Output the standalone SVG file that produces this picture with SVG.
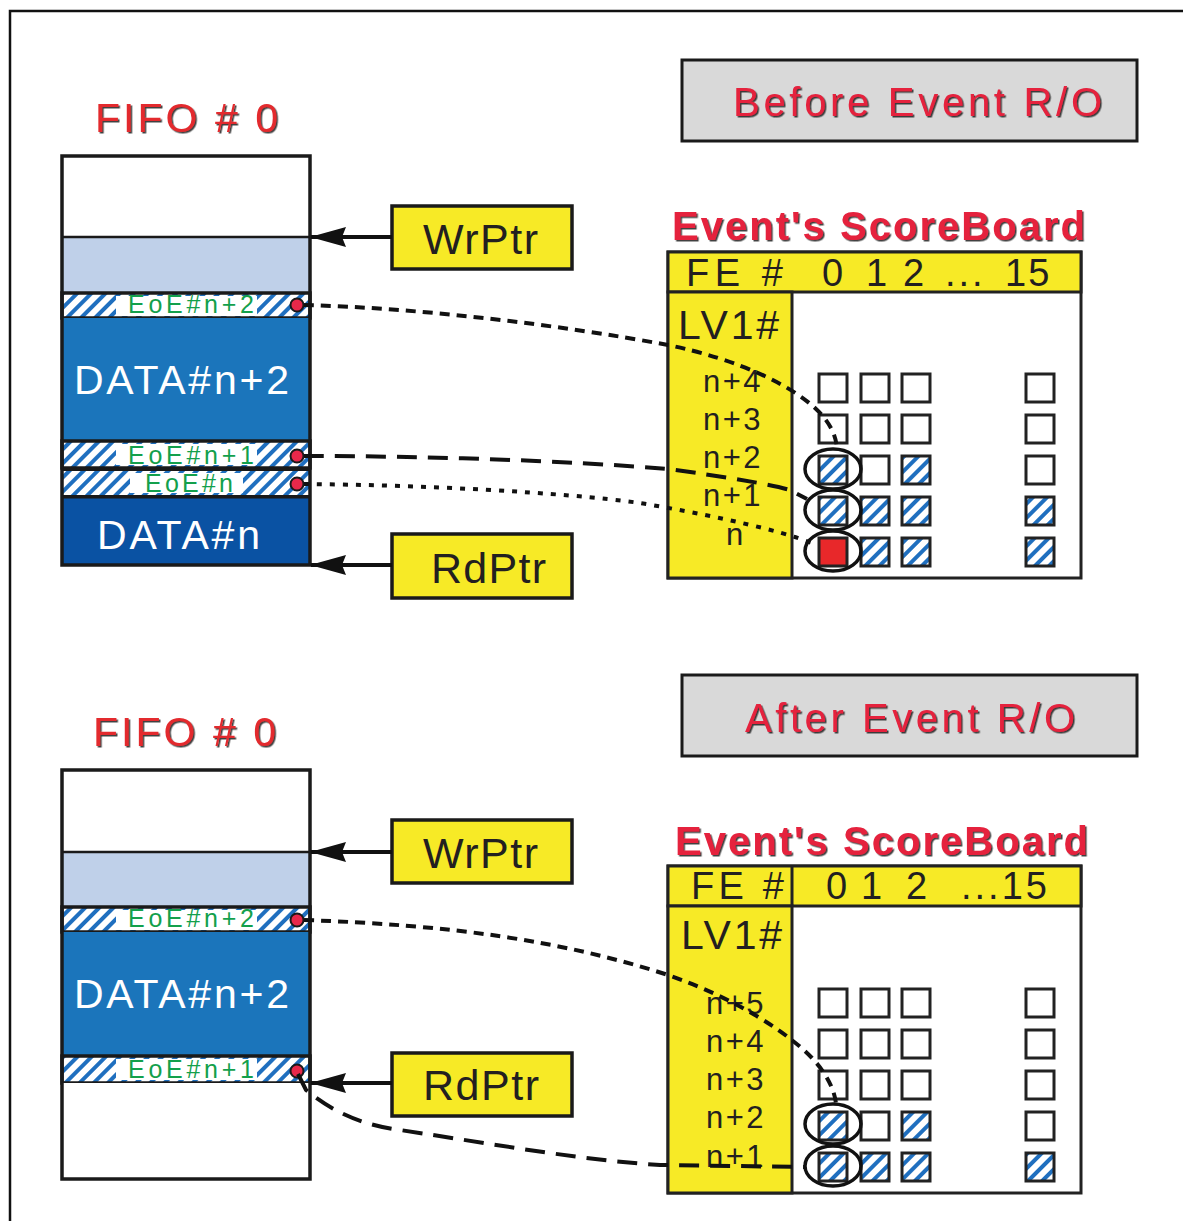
<svg xmlns="http://www.w3.org/2000/svg" width="1183" height="1221" viewBox="0 0 1183 1221">
<defs>
<style>
text{font-family:"Liberation Sans",Arial,Helvetica,sans-serif}
.fifo-title{fill:#e32a2d;font-size:41px;filter:url(#sh)}
.title{fill:#e5203d;font-size:40px;filter:url(#sh)}
.sb-title{fill:#e5203d;font-size:40px;font-weight:bold;filter:url(#sh)}
.box{stroke:#1a1a1a;stroke-width:3.5}
.tbox{fill:#d9d9d9;stroke:#1a1a1a;stroke-width:3}
.yel{fill:#f7ea26}
.ptr{font-size:43px;fill:#231f20}
.data{font-size:41px;fill:#fff}
.eoe{font-size:25px;fill:#13a04c}
.dot{fill:#e8284a;stroke:#1a1a1a;stroke-width:2}
.sq{fill:#fff;stroke:#222;stroke-width:3}
.sqh{fill:url(#hatch);stroke:#222;stroke-width:3}
.sqr{fill:#e8282a;stroke:#222;stroke-width:3}
.ell{fill:none;stroke:#111;stroke-width:3.5}
.sbl{stroke:#222;stroke-width:3}
.hdr{font-size:38px;fill:#231f20}
.lv{font-size:41px;fill:#231f20}
.row{font-size:31px;fill:#231f20;letter-spacing:2.5px}
.conn{fill:none;stroke:#111;stroke-width:4}
.d1{stroke-dasharray:10 7}
.d2{stroke-dasharray:20 11}
.d3{stroke-dasharray:5 8}
.arrow{fill:none;stroke:#111;stroke-width:4}
</style>
<pattern id="hatch" patternUnits="userSpaceOnUse" width="10" height="10" patternTransform="rotate(45)">
<rect width="10" height="10" fill="#fff"/>
<rect width="4" height="10" fill="#1f6fbf"/>
</pattern>
<filter id="sh" x="-5%" y="-10%" width="110%" height="130%">
<feDropShadow dx="1.5" dy="1.5" stdDeviation="0.3" flood-color="#222" flood-opacity="0.85"/>
</filter>
<marker id="arr" markerUnits="userSpaceOnUse" markerWidth="36" markerHeight="22" refX="35" refY="11" orient="auto">
<path d="M0,1 L36,11 L0,21 L4,11 z" fill="#111"/>
</marker>
</defs>

<rect width="1183" height="1221" fill="#fff"/>
<path d="M10,1221 V11 H1183" fill="none" stroke="#111" stroke-width="2.5"/>

<!-- ===== TOP ===== -->
<g id="fifo-top">
<text class="fifo-title" x="95" y="132" textLength="183">FIFO # 0</text>
<rect x="62" y="156" width="248" height="81" fill="#fff"/>
<rect x="62" y="237" width="248" height="56" fill="#bfd0e9"/>
<line x1="62" y1="237" x2="310" y2="237" stroke="#1a1a1a" stroke-width="2.5"/>
<g id="eoe-n2-top">
<rect x="62" y="293" width="248" height="25" fill="url(#hatch)" class="box"/>
<rect x="116" y="296" width="141" height="20" fill="#fff"/>
<text class="eoe" x="128" y="313" textLength="126">EoE#n+2</text>
<circle class="dot" cx="297" cy="305" r="6.5"/>
</g>
<rect x="62" y="318" width="248" height="123" fill="#1b75bb"/>
<text class="data" x="74" y="394" textLength="215">DATA#n+2</text>
<g id="eoe-n1-top">
<rect x="62" y="441" width="248" height="27" fill="url(#hatch)" class="box"/>
<rect x="116" y="444" width="141" height="21" fill="#fff"/>
<text class="eoe" x="128" y="464" textLength="126">EoE#n+1</text>
<circle class="dot" cx="297" cy="456" r="6.5"/>
</g>
<g id="eoe-n-top">
<rect x="62" y="470" width="248" height="26" fill="url(#hatch)" stroke="#1a1a1a" stroke-width="2"/>
<rect x="130" y="473" width="113" height="20" fill="#fff"/>
<text class="eoe" x="145" y="492" textLength="88">EoE#n</text>
<circle class="dot" cx="297" cy="484" r="6.5"/>
</g>
<rect x="62" y="497" width="248" height="68" fill="#0a52a3"/>
<line x1="62" y1="497" x2="310" y2="497" stroke="#1a1a1a" stroke-width="3"/>
<text class="data" x="97" y="549" textLength="163">DATA#n</text>
<rect x="62" y="156" width="248" height="409" fill="none" class="box"/>
</g>

<g id="wrptr-top">
<rect x="392" y="206" width="180" height="63" class="yel box"/>
<text class="ptr" x="423" y="254" textLength="115">WrPtr</text>
</g>
<g id="rdptr-top">
<rect x="392" y="534" width="180" height="64" class="yel box"/>
<text class="ptr" x="431" y="583" textLength="115">RdPtr</text>
</g>

<g id="before-box">
<rect x="682" y="60" width="455" height="81" class="tbox"/>
<text class="title" x="733" y="116" textLength="369">Before Event R/O</text>
</g>

<g id="scoreboard-top">
<text class="sb-title" x="672" y="240" textLength="413">Event's ScoreBoard</text>
<rect x="668" y="252" width="413" height="326" fill="#fff" class="sbl"/>
<rect x="668" y="252" width="413" height="40" class="yel sbl"/>
<rect x="668" y="292" width="124" height="286" class="yel sbl"/>
<text class="hdr" x="686" y="286" textLength="97">FE #</text>
<text class="hdr" y="286"><tspan x="822">0</tspan><tspan x="866">1</tspan><tspan x="903">2</tspan><tspan x="945" letter-spacing="3">...</tspan><tspan x="1005" letter-spacing="2">15</tspan></text>
<text class="lv" x="678" y="339" textLength="101">LV1#</text>
<text class="row" x="703" y="392">n+4</text>
<text class="row" x="703" y="430">n+3</text>
<text class="row" x="703" y="468">n+2</text>
<text class="row" x="703" y="506">n+1</text>
<text class="row" x="726" y="545">n</text>
<rect class="sq" x="819" y="374" width="28" height="28"/>
<rect class="sq" x="861" y="374" width="28" height="28"/>
<rect class="sq" x="902" y="374" width="28" height="28"/>
<rect class="sq" x="1026" y="374" width="28" height="28"/>
<rect class="sq" x="819" y="415" width="28" height="28"/>
<rect class="sq" x="861" y="415" width="28" height="28"/>
<rect class="sq" x="902" y="415" width="28" height="28"/>
<rect class="sq" x="1026" y="415" width="28" height="28"/>
<rect class="sqh" x="819" y="456" width="28" height="28"/>
<rect class="sq" x="861" y="456" width="28" height="28"/>
<rect class="sqh" x="902" y="456" width="28" height="28"/>
<rect class="sq" x="1026" y="456" width="28" height="28"/>
<rect class="sqh" x="819" y="497" width="28" height="28"/>
<rect class="sqh" x="861" y="497" width="28" height="28"/>
<rect class="sqh" x="902" y="497" width="28" height="28"/>
<rect class="sqh" x="1026" y="497" width="28" height="28"/>
<rect class="sqr" x="819" y="538" width="28" height="28"/>
<rect class="sqh" x="861" y="538" width="28" height="28"/>
<rect class="sqh" x="902" y="538" width="28" height="28"/>
<rect class="sqh" x="1026" y="538" width="28" height="28"/>
<ellipse class="ell" cx="833" cy="469" rx="28" ry="20"/>
<ellipse class="ell" cx="833" cy="510" rx="28" ry="20"/>
<ellipse class="ell" cx="833" cy="551" rx="28" ry="20"/>
</g>

<!-- ===== BOTTOM ===== -->
<g id="fifo-bottom">
<text class="fifo-title" x="93" y="746" textLength="183">FIFO # 0</text>
<rect x="62" y="770" width="248" height="82" fill="#fff"/>
<rect x="62" y="852" width="248" height="55" fill="#bfd0e9"/>
<line x1="62" y1="852" x2="310" y2="852" stroke="#1a1a1a" stroke-width="2.5"/>
<g id="eoe-n2-bottom">
<rect x="62" y="907" width="248" height="25" fill="url(#hatch)" class="box"/>
<rect x="116" y="910" width="141" height="20" fill="#fff"/>
<text class="eoe" x="128" y="927" textLength="126">EoE#n+2</text>
<circle class="dot" cx="297" cy="920" r="6.5"/>
</g>
<rect x="62" y="932" width="248" height="124" fill="#1b75bb"/>
<text class="data" x="74" y="1008" textLength="215">DATA#n+2</text>
<g id="eoe-n1-bottom">
<rect x="62" y="1056" width="248" height="27" fill="url(#hatch)" class="box"/>
<rect x="116" y="1059" width="141" height="21" fill="#fff"/>
<text class="eoe" x="128" y="1078" textLength="126">EoE#n+1</text>
<circle class="dot" cx="297" cy="1071" r="6.5"/>
</g>
<rect x="62" y="1083" width="248" height="96" fill="#fff"/>
<rect x="62" y="770" width="248" height="409" fill="none" class="box"/>
</g>

<g id="wrptr-bottom">
<rect x="392" y="820" width="180" height="63" class="yel box"/>
<text class="ptr" x="423" y="868" textLength="115">WrPtr</text>
</g>
<g id="rdptr-bottom">
<rect x="392" y="1053" width="180" height="63" class="yel box"/>
<text class="ptr" x="423" y="1100" textLength="116">RdPtr</text>
</g>

<g id="after-box">
<rect x="682" y="675" width="455" height="81" class="tbox"/>
<text class="title" x="745" y="732" textLength="330">After Event R/O</text>
</g>

<g id="scoreboard-bottom">
<text class="sb-title" x="675" y="855" textLength="413">Event's ScoreBoard</text>
<rect x="668" y="866" width="413" height="327" fill="#fff" class="sbl"/>
<rect x="668" y="866" width="413" height="40" class="yel sbl"/>
<line x1="792" y1="866" x2="792" y2="906" class="sbl"/>
<rect x="668" y="906" width="124" height="287" class="yel sbl"/>
<text class="hdr" x="691" y="899" textLength="93">FE #</text>
<text class="hdr" y="899"><tspan x="826">0</tspan><tspan x="861">1</tspan><tspan x="906">2</tspan><tspan x="961" letter-spacing="3">...15</tspan></text>
<text class="lv" x="681" y="949" textLength="101">LV1#</text>
<text class="row" x="706" y="1014">n+5</text>
<text class="row" x="706" y="1052">n+4</text>
<text class="row" x="706" y="1090">n+3</text>
<text class="row" x="706" y="1128">n+2</text>
<text class="row" x="706" y="1167">n+1</text>
<rect class="sq" x="819" y="989" width="28" height="28"/>
<rect class="sq" x="861" y="989" width="28" height="28"/>
<rect class="sq" x="902" y="989" width="28" height="28"/>
<rect class="sq" x="1026" y="989" width="28" height="28"/>
<rect class="sq" x="819" y="1030" width="28" height="28"/>
<rect class="sq" x="861" y="1030" width="28" height="28"/>
<rect class="sq" x="902" y="1030" width="28" height="28"/>
<rect class="sq" x="1026" y="1030" width="28" height="28"/>
<rect class="sq" x="819" y="1071" width="28" height="28"/>
<rect class="sq" x="861" y="1071" width="28" height="28"/>
<rect class="sq" x="902" y="1071" width="28" height="28"/>
<rect class="sq" x="1026" y="1071" width="28" height="28"/>
<rect class="sqh" x="819" y="1112" width="28" height="28"/>
<rect class="sq" x="861" y="1112" width="28" height="28"/>
<rect class="sqh" x="902" y="1112" width="28" height="28"/>
<rect class="sq" x="1026" y="1112" width="28" height="28"/>
<rect class="sqh" x="819" y="1153" width="28" height="28"/>
<rect class="sqh" x="861" y="1153" width="28" height="28"/>
<rect class="sqh" x="902" y="1153" width="28" height="28"/>
<rect class="sqh" x="1026" y="1153" width="28" height="28"/>
<ellipse class="ell" cx="833" cy="1124" rx="28" ry="20"/>
<ellipse class="ell" cx="833" cy="1166" rx="28" ry="20"/>
</g>

<!-- ===== CONNECTORS ===== -->
<g id="connectors">
<path class="arrow" d="M392,237 H311" marker-end="url(#arr)"/>
<path class="arrow" d="M392,565 H311" marker-end="url(#arr)"/>
<path class="arrow" d="M392,852 H311" marker-end="url(#arr)"/>
<path class="arrow" d="M392,1083 H311" marker-end="url(#arr)"/>
<path class="conn d1" d="M304,305 C420,308 560,325 668,345 C740,360 790,385 815,408 C830,422 836,435 837,449"/>
<path class="conn d2" d="M304,456 C420,456 560,460 668,469 C720,476 770,484 790,490 L807,499"/>
<path class="conn d3" d="M304,484 C420,485 560,492 640,503 C700,513 760,526 795,537 L812,543"/>
<path class="conn d1" d="M304,920 C450,925 560,940 668,975 C740,1000 790,1035 812,1058 C828,1075 835,1092 836,1104"/>
<path class="conn d2" d="M298,1074 L306,1090 C330,1110 360,1125 400,1130 C500,1145 580,1160 660,1165 L805,1167"/>
</g>
</svg>
